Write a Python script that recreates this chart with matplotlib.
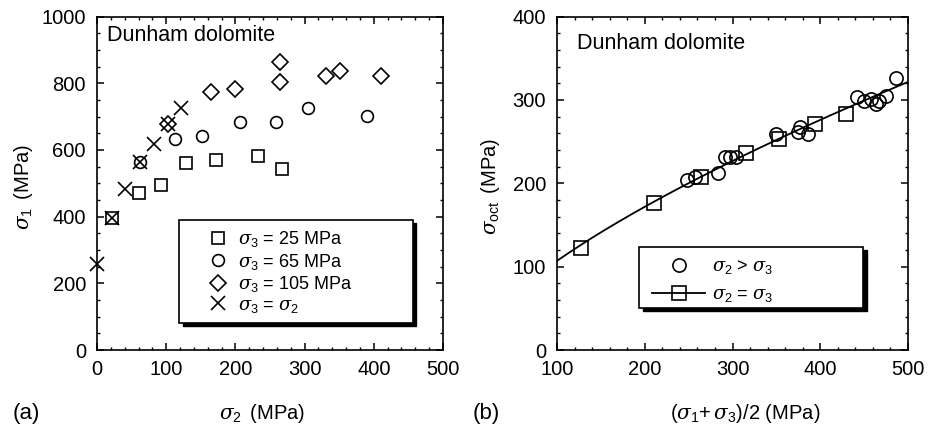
import numpy as np
import matplotlib
matplotlib.use("Agg")
import matplotlib.pyplot as plt
from matplotlib.patches import Rectangle
from matplotlib.ticker import MultipleLocator

# ---- panel (a): sigma_1 vs sigma_2, Dunham dolomite ----
S25_S2 = [22, 61, 92, 129, 172, 233, 267]
S25_S1 = [397, 472, 495, 560, 570, 583, 542]

S65_S2 = [62, 113, 152, 207, 259, 305, 390]
S65_S1 = [563, 634, 642, 685, 683, 725, 702]

S105_S2 = [103, 165, 200, 265, 264, 331, 351, 411]
S105_S1 = [678, 774, 784, 863, 804, 822, 838, 822]

SEQ_S2 = [0, 22, 40, 62, 83, 103, 122]
SEQ_S1 = [257, 397, 483, 563, 617, 678, 725]

# ---- panel (b): octahedral shear stress vs mean stress ----
GT_SM = [248, 257, 284, 291.5, 297, 304, 349.5, 375, 377, 385.5,
         442, 450, 458, 463.5, 467.5, 475, 486]
GT_OCT = [204, 208, 212, 232, 232, 231, 259.5, 261.5, 267.5, 259.5,
          304, 299, 301, 295, 299, 305, 326]

EQ_SM = [127, 211, 264, 315, 353, 394, 429]
EQ_OCT = [122, 176, 207, 236.5, 253, 271.5, 283.5]

plt.rcParams.update({
    "font.family": ["Liberation Sans", "DejaVu Sans"],
    "mathtext.fontset": "custom",
    "mathtext.rm": "Liberation Sans",
    "mathtext.it": "DejaVu Serif:italic",
    "mathtext.bf": "Liberation Sans:bold",
    "font.size": 14,
    "axes.linewidth": 1.2,
    "xtick.direction": "in",
    "ytick.direction": "in",
    "xtick.top": True,
    "ytick.right": True,
    "xtick.major.size": 5,
    "ytick.major.size": 5,
    "xtick.minor.size": 2.5,
    "ytick.minor.size": 2.5,
    "xtick.major.width": 1.1,
    "ytick.major.width": 1.1,
    "xtick.minor.width": 1.0,
    "ytick.minor.width": 1.0,
    "xtick.major.pad": 7,
    "ytick.major.pad": 8,
    "xtick.labelsize": 14.5,
    "ytick.labelsize": 14.5,
})

MEW = 1.2
fig = plt.figure(figsize=(9.34, 4.32), dpi=100)
ax1 = fig.add_axes([97 / 934, 82 / 432, 346 / 934, 333.5 / 432])
ax2 = fig.add_axes([557 / 934, 82 / 432, 351 / 934, 333.5 / 432])


def legend_frame(ax, x0, y0, x1, y1):
    # white box with solid black drop shadow, in axes fraction
    bb = ax.get_window_extent()
    dx, dy = 3.5 / bb.width, 3.5 / bb.height
    ax.add_patch(Rectangle((x0 + dx, y0 - dy), x1 - x0, y1 - y0, transform=ax.transAxes,
                           facecolor="black", edgecolor="black", zorder=5, clip_on=False))
    ax.add_patch(Rectangle((x0, y0), x1 - x0, y1 - y0, transform=ax.transAxes,
                           facecolor="white", edgecolor="black", lw=1.2, zorder=5.5,
                           clip_on=False))


# panel (a)
common = dict(linestyle="none", mfc="none", mec="black", mew=MEW, clip_on=False)
ax1.plot(S25_S2, S25_S1, marker="s", ms=9, label=r"$\sigma_3$ = 25 MPa", **common)
ax1.plot(S65_S2, S65_S1, marker="o", ms=8.5, label=r"$\sigma_3$ = 65 MPa", **common)
ax1.plot(S105_S2, S105_S1, marker="D", ms=8, label=r"$\sigma_3$ = 105 MPa", **common)
ax1.plot(SEQ_S2, SEQ_S1, marker="x", ms=9.5, label=r"$\sigma_3$ = $\sigma_2$", **common)

ax1.set_xlim(0, 500)
ax1.set_ylim(0, 1000)
ax1.xaxis.set_major_locator(MultipleLocator(100))
ax1.xaxis.set_minor_locator(MultipleLocator(20))
ax1.yaxis.set_major_locator(MultipleLocator(200))
ax1.yaxis.set_minor_locator(MultipleLocator(50))
ax1.text(0.03, 0.944, "Dunham dolomite", transform=ax1.transAxes,
         fontsize=15.5, va="center", ha="left")
legend_frame(ax1, 0.237, 0.081, 0.913, 0.39)
leg1 = ax1.legend(loc="center left", bbox_to_anchor=(0.307, 0.234),
                  fontsize=13, frameon=False, labelspacing=0.14,
                  handletextpad=0.3, borderpad=0, handlelength=1.6,
                  borderaxespad=0)
leg1.set_zorder(7)
ax1.set_xlabel(r"$\sigma_2\,$ (MPa)", fontsize=14.5)
ax1.xaxis.set_label_coords(0.477, -0.155)
ax1.set_ylabel(r"$\sigma_1\,$ (MPa)", fontsize=14.5)
ax1.yaxis.set_label_coords(-0.18, 0.49)
fig.text(13 / 934, (432 - 413) / 432, "(a)", fontsize=16, va="center", ha="left")

# panel (b)
ax2.plot(GT_SM, GT_OCT, marker="o", ms=9.5, label=r"$\sigma_2$ > $\sigma_3$", **common)
# power-law fit through all points for the trend line
all_sm = np.array(GT_SM + EQ_SM, dtype=float)
all_oct = np.array(GT_OCT + EQ_OCT, dtype=float)
n, lna = np.polyfit(np.log(all_sm), np.log(all_oct), 1)
xf = np.linspace(100, 500, 200)
ax2.plot(xf, np.exp(lna) * xf ** n, color="black", lw=1.3)
ax2.plot(EQ_SM, EQ_OCT, marker="s", ms=9.5, linestyle="none",
         mfc="none", mec="black", mew=MEW)
# legend proxy for line+square
ax2.plot([], [], marker="s", ms=9.5, color="black", lw=1.3, mfc="none",
         mec="black", mew=MEW, label=r"$\sigma_2$ = $\sigma_3$")

ax2.set_xlim(100, 500)
ax2.set_ylim(0, 400)
ax2.xaxis.set_major_locator(MultipleLocator(100))
ax2.xaxis.set_minor_locator(MultipleLocator(20))
ax2.yaxis.set_major_locator(MultipleLocator(100))
ax2.yaxis.set_minor_locator(MultipleLocator(20))
ax2.text(0.057, 0.92, "Dunham dolomite", transform=ax2.transAxes,
         fontsize=15.5, va="center", ha="left")
legend_frame(ax2, 0.234, 0.126, 0.872, 0.309)
leg2 = ax2.legend(loc="center left", bbox_to_anchor=(0.271, 0.207),
                  fontsize=13, frameon=False, labelspacing=0.55,
                  handletextpad=0.39, borderpad=0, handlelength=2.93,
                  borderaxespad=0)
leg2.set_zorder(7)
ax2.set_xlabel(r"($\sigma_1$+$\,\sigma_3$)/2 (MPa)", fontsize=14.5)
ax2.xaxis.set_label_coords(0.535, -0.155)
ax2.set_ylabel(r"$\sigma_{\mathrm{oct}}\,$ (MPa)", fontsize=14.5)
ax2.yaxis.set_label_coords(-0.157, 0.49)
fig.text(473 / 934, (432 - 413) / 432, "(b)", fontsize=16, va="center", ha="left")

fig.savefig("out.png", dpi=100, facecolor="white")
